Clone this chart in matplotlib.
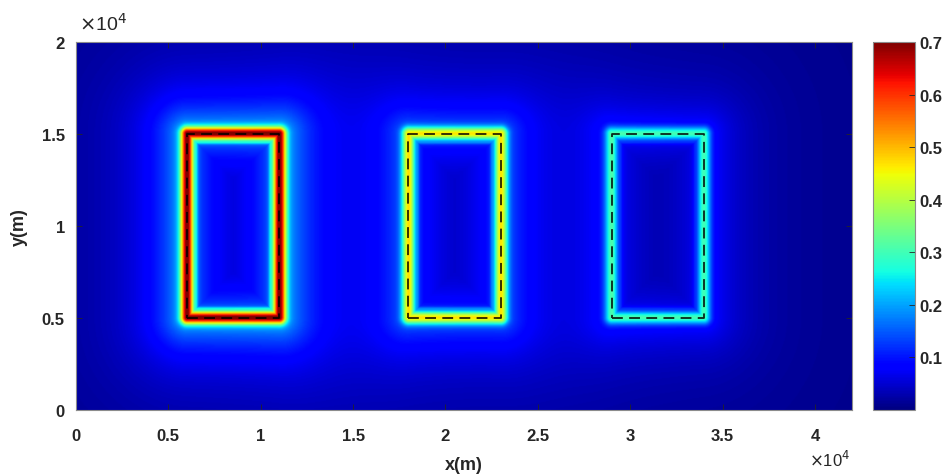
import numpy as np
import matplotlib.pyplot as plt
from matplotlib.ticker import FixedLocator, FuncFormatter

# rectangles (m) and peak field along the edges
rect_x0 = [6000, 18000, 29000]
rect_x1 = [11000, 23000, 34000]
rect_y0 = [5000, 5000, 5000]
rect_y1 = [15000, 15000, 15000]
edge_peak = [0.70, 0.45, 0.29]

x_max = 42000
y_max = 20000
x_ticks = [0, 5000, 10000, 15000, 20000, 25000, 30000, 35000, 40000]
x_tick_labels = ["0", "0.5", "1", "1.5", "2", "2.5", "3", "3.5", "4"]
y_ticks = [0, 5000, 10000, 15000, 20000]
y_tick_labels = ["0", "0.5", "1", "1.5", "2"]
cbar_ticks = [0.1, 0.2, 0.3, 0.4, 0.5, 0.6, 0.7]

TXT = "#262626"


def rect_field(X, Y, x0, x1, y0, y1, amp):
    dx = np.maximum(np.maximum(x0 - X, X - x1), 0)
    dy = np.maximum(np.maximum(y0 - Y, Y - y1), 0)
    d_out = np.hypot(dx, dy)
    inside = (X > x0) & (X < x1) & (Y > y0) & (Y < y1)
    d_in = np.minimum.reduce([X - x0, x1 - X, Y - y0, y1 - Y])
    d_in = np.where(inside, d_in, 0)
    s = np.where(inside, -d_in, d_out)

    # band along the edge
    g = np.exp(-(np.abs(s) / 340.0) ** 2)
    halo = np.where(inside, 0, amp * (0.30 * np.exp(-d_out / 1500.0) + 0.05 * np.exp(-d_out / 6000.0)))
    inner = np.where(inside, amp * (0.23 * np.exp(-d_in / 1400.0) + 0.03), 0)
    side = np.where(inside, amp * 0.08 * np.exp(-((d_in - 500) / 80.0) ** 2), 0)
    return amp * g + (halo + inner + side) * (1 - g)


def main():
    xs = np.linspace(0, x_max, 841)
    ys = np.linspace(0, y_max, 401)
    X, Y = np.meshgrid(xs, ys)
    Z = np.full_like(X, 0.006)
    for x0, x1, y0, y1, a in zip(rect_x0, rect_x1, rect_y0, rect_y1, edge_peak):
        Z += rect_field(X, Y, x0, x1, y0, y1, a)

    plt.rcParams["font.family"] = ["Liberation Sans", "DejaVu Sans"]
    fig = plt.figure(figsize=(9.52, 4.77), dpi=100)
    ax = fig.add_axes([0.0798, 0.1384, 0.815, 0.7715])
    cax = fig.add_axes([0.917, 0.1384, 0.044, 0.7715])

    im = ax.imshow(Z, extent=[0, x_max, 0, y_max], origin="lower", aspect="auto",
                   cmap="jet", vmin=0.0, vmax=0.7, interpolation="bilinear")

    for x0, x1, y0, y1 in zip(rect_x0, rect_x1, rect_y0, rect_y1):
        ax.plot([x0, x1, x1, x0, x0], [y0, y0, y1, y1, y0], color="black",
                lw=1.3, linestyle=(0, (6, 3.5)), alpha=0.85)

    ax.set_xlim(0, x_max)
    ax.set_ylim(0, y_max)
    ax.xaxis.set_major_locator(FixedLocator(x_ticks))
    ax.yaxis.set_major_locator(FixedLocator(y_ticks))
    ax.xaxis.set_major_formatter(FuncFormatter(lambda v, p: x_tick_labels[p] if p is not None and p < len(x_tick_labels) else ""))
    ax.yaxis.set_major_formatter(FuncFormatter(lambda v, p: y_tick_labels[p] if p is not None and p < len(y_tick_labels) else ""))
    ax.tick_params(direction="in", top=True, right=True, length=4, width=0.6,
                   labelsize=12, colors=TXT)
    ax.tick_params(axis="x", pad=13)
    ax.tick_params(axis="y", pad=8)
    for lab in ax.get_xticklabels() + ax.get_yticklabels():
        lab.set_fontweight("bold")
    for sp in ax.spines.values():
        sp.set_color("#8c8c8c")
        sp.set_linewidth(0.8)

    ax.set_xlabel("x(m)", fontsize=13, fontweight="bold", color=TXT, labelpad=9)
    ax.set_ylabel("y(m)", fontsize=13, fontweight="bold", color=TXT, labelpad=10)
    fig.text(0.083, 0.928, r"$\times$10$^4$", fontsize=14, color=TXT, ha="left", va="bottom")
    fig.text(0.893, 0.015, r"$\times$10$^4$", fontsize=12, color=TXT, ha="right", va="bottom")

    cb = fig.colorbar(im, cax=cax)
    cb.set_ticks(cbar_ticks)
    cb.set_ticklabels([f"{t:.1f}" for t in cbar_ticks])
    cax.tick_params(direction="in", length=4, width=0.6, labelsize=12, colors=TXT)
    for lab in cax.get_yticklabels():
        lab.set_fontweight("bold")
    cb.outline.set_edgecolor("#8c8c8c")
    cb.outline.set_linewidth(0.8)

    fig.savefig("out.png", dpi=100)


if __name__ == "__main__":
    main()
